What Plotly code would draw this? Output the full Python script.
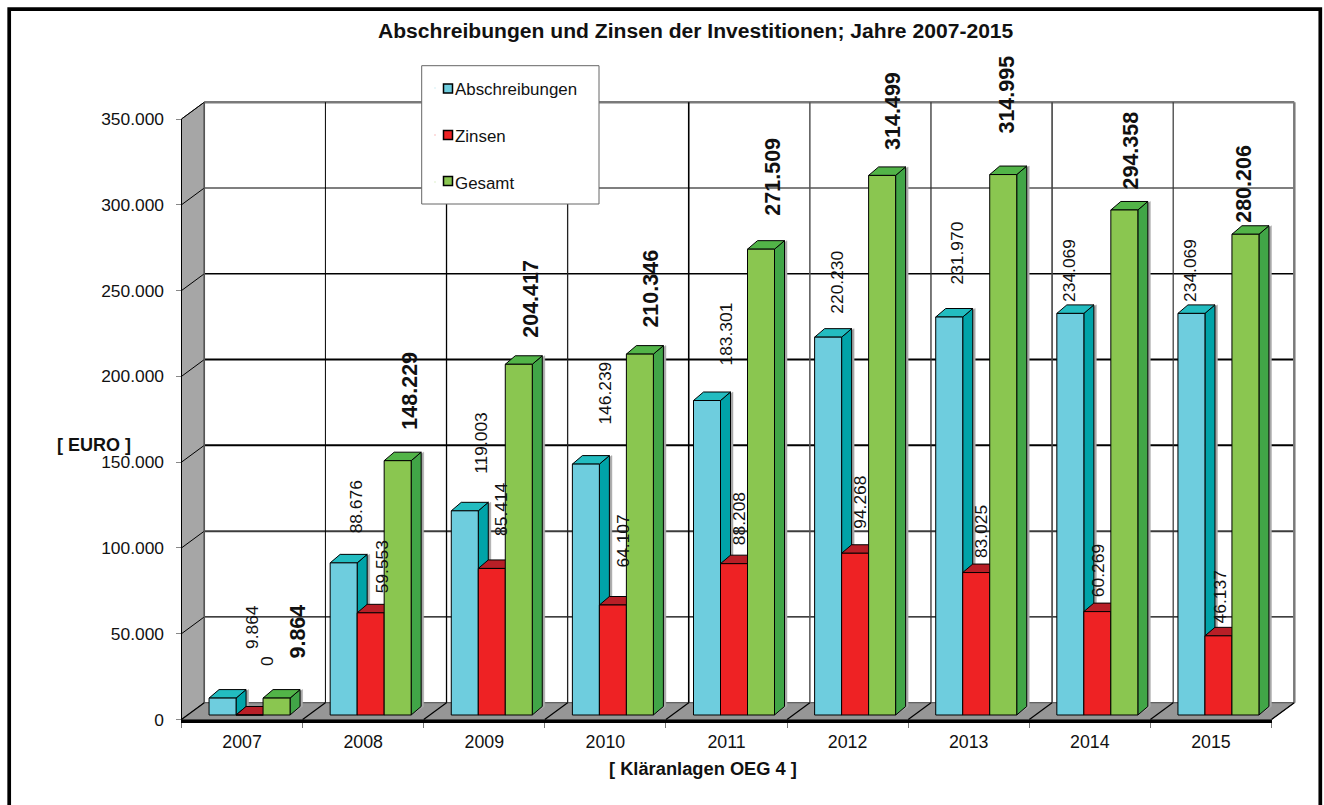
import plotly.graph_objects as go

# ---------- data ----------
years = ["2007", "2008", "2009", "2010", "2011", "2012", "2013", "2014", "2015"]
abschreibungen = [9864, 88676, 119003, 146239, 183301, 220230, 231970, 234069, 234069]
zinsen = [0, 59553, 85414, 64107, 88208, 94268, 83025, 60269, 46137]
gesamt = [9864, 148229, 204417, 210346, 271509, 314499, 314995, 294358, 280206]
y_ticks = [0, 50000, 100000, 150000, 200000, 250000, 300000, 350000]

# ---------- frame of the picture (pixels) ----------
W, H = 1324, 805
L, R = 181.5, 1271.5      # front plane, left/right
Y0, Y350 = 719.5, 119.0   # front plane, value 0 / 350000
PPC = (R - L) / len(years)
PPE = (Y0 - Y350) / 350000
DEPTH_X, DEPTH_Y = 22.8 / PPC, 16.8 / PPE   # wall depth
BAR_W = 27 / PPC
BAR_SHIFT = 7.5 / PPC
BAR_BASE = 4.5 / PPE
BAR_DX, BAR_DY = 10 / PPC, 8.5 / PPE
SHADOW = 2.5 / PPC

FONT = "Liberation Sans, Arial, sans-serif"
INK = "#111111"

# label offsets from the bar top (px): sideways, upward
blue_dx = [29.4, 12.3, 16.2, 19.1, 19, 8.9, 6.8, -1.3, -1.4]
blue_up = [48, 29, 36, 39, 33.5, 22, 31, 10, 10]
red_dx = [17.4, 11.3, 9.2, 10.1, 5, 4.9, 4.8, .7, 1.6]
red_up = [48, 19, 31.5, 37, 17, 23, 13, 13, 11]
green_dx = [21.4, 12.3, 12.2, 11.1, 12, 10.9, 3.8, 6.7, -1.4]
green_up = [38.5, 30, 25.5, 25.5, 32.5, 24.5, 40, 19.5, 10.5]

series = [
    dict(name="Abschreibungen", v=abschreibungen, front="#6ECDDE", side="#00A3A8", top="#23BCC0", pos=-1, dx=blue_dx, up=blue_up, size=17.4, bold=False),
    dict(name="Zinsen", v=zinsen, front="#EE2224", side="#B81F27", top="#B81F27", pos=0, dx=red_dx, up=red_up, size=17.4, bold=False),
    dict(name="Gesamt", v=gesamt, front="#8AC650", side="#41A547", top="#52B448", pos=1, dx=green_dx, up=green_up, size=21.5, bold=True),
]

def de(n):
    return f"{n:,}".replace(",", ".")

fig = go.Figure()
n = len(years)
x_lo, x_hi = -0.5, n - 0.5

def poly(xs, ys, fill, line="black", width=1):
    fig.add_trace(go.Scatter(x=xs, y=ys, mode="lines", fill="toself", fillcolor=fill,
                             line=dict(color=line, width=width), hoverinfo="skip", showlegend=False))

def seg(xs, ys, color="black", width=1):
    fig.add_trace(go.Scatter(x=xs, y=ys, mode="lines", line=dict(color=color, width=width),
                             hoverinfo="skip", showlegend=False))

# left wall and floor
poly([x_lo, x_lo + DEPTH_X, x_lo + DEPTH_X, x_lo], [0, DEPTH_Y, 350000 + DEPTH_Y, 350000], "#A6A6A6", "#333333", 1)
poly([x_lo, x_hi, x_hi + DEPTH_X, x_lo + DEPTH_X], [0, 0, DEPTH_Y, DEPTH_Y], "#969696", "#444444", 1)

# back wall grid
h_style = [("#444444", 1), ("black", 1.2), ("#3c3c3c", 2), ("black", 2), ("black", 2), ("black", 1.3), ("black", 1.2), ("#7a7a7a", 2.5)]
for t, (c, w) in zip(y_ticks, h_style):
    if t > 0:
        seg([x_lo + DEPTH_X, x_hi + DEPTH_X], [t + DEPTH_Y, t + DEPTH_Y], c, w)
        seg([x_lo, x_lo + DEPTH_X], [t, t + DEPTH_Y], "black", 1)
v_style = [("#555555", 1.5), ("black", 1), ("black", 1.3), ("#222222", 1.3), ("black", 1.6), ("#555555", 1.5), ("#333333", 1.3), ("#444444", 1.6), ("#333333", 1.2), ("#7a7a7a", 2.5)]
for k, (c, w) in enumerate(v_style):
    xb = x_lo + k + DEPTH_X
    seg([xb, xb], [DEPTH_Y, 350000 + DEPTH_Y], c, w)
    seg([x_lo + k, xb], [0, DEPTH_Y], "black", 1.2)

# 3-D columns
for s in series:
    fx, fy, sx, sy, tx, ty, gx, gy = [], [], [], [], [], [], [], []
    for i, v in enumerate(s["v"]):
        x0 = i + BAR_SHIFT + (s["pos"] - 0.5) * BAR_W
        x1 = x0 + BAR_W
        b, t = BAR_BASE, BAR_BASE + v
        gx += [x1, x1 + BAR_DX + SHADOW, x1 + BAR_DX + SHADOW, x1, x1, None]
        gy += [b, b + BAR_DY, t + BAR_DY, t, b, None]
        sx += [x1, x1 + BAR_DX, x1 + BAR_DX, x1, x1, None]
        sy += [b, b + BAR_DY, t + BAR_DY, t, b, None]
        tx += [x0, x1, x1 + BAR_DX, x0 + BAR_DX, x0, None]
        ty += [t, t, t + BAR_DY, t + BAR_DY, t, None]
        fx += [x0, x1, x1, x0, x0, None]
        fy += [b, b, t, t, b, None]
    poly(gx, gy, "#A8A8A8", "#A8A8A8", 0.5)
    poly(sx, sy, s["side"])
    poly(tx, ty, s["top"])
    poly(fx, fy, s["front"])

# invisible carriers: the tick axes, and the legend entries
fig.add_trace(go.Scatter(x=years, y=[0] * n, xaxis="x2", yaxis="y2", mode="markers",
                         marker=dict(opacity=0), hoverinfo="skip", showlegend=False))
for s in series:
    fig.add_trace(go.Scatter(x=[None], y=[None], mode="markers", name=s["name"], legendgroup=s["name"],
                             marker=dict(opacity=0, size=1, color=s["front"]), hoverinfo="skip"))

# data labels
ann = []
for s in series:
    for i, v in enumerate(s["v"]):
        ann.append(dict(x=i + BAR_SHIFT + s["pos"] * BAR_W, y=BAR_BASE + v, xref="x", yref="y",
                        text=f"<b>{de(v)}</b>" if s["bold"] else de(v), textangle=-90, showarrow=False,
                        xanchor="center", yanchor="bottom", xshift=s["dx"][i], yshift=s["up"][i],
                        borderpad=0, font=dict(family=FONT, size=s["size"], color=INK)))
ann += [
    dict(text="<b>Abschreibungen und Zinsen der Investitionen; Jahre 2007-2015</b>", x=696 / W, y=1 - 31 / H,
         xref="paper", yref="paper", showarrow=False, xanchor="center", yanchor="middle",
         font=dict(family=FONT, size=21.1, color=INK)),
    dict(text="<b>[ EURO ]</b>", x=94 / W, y=1 - 445 / H, xref="paper", yref="paper", showarrow=False,
         xanchor="center", yanchor="middle", font=dict(family=FONT, size=18, color=INK)),
    dict(text="<b>[ Kläranlagen OEG 4 ]</b>", x=702.5 / W, y=1 - 768 / H, xref="paper", yref="paper", showarrow=False,
         xanchor="center", yanchor="middle", font=dict(family=FONT, size=18.3, color=INK)),
]

# frame, legend box and legend swatches
shapes = [
    dict(type="rect", xref="paper", yref="paper", x0=9.2 / W, x1=1320.3 / W, y0=-0.02, y1=1 - 9.2 / H,
         line=dict(color="black", width=3.7), layer="above"),
    dict(type="rect", xref="paper", yref="paper", x0=421.7 / W, x1=599 / W, y0=1 - 204 / H, y1=1 - 65.7 / H,
         line=dict(color="#666666", width=1), fillcolor="white", layer="above"),
]
for s, yc in zip(series, [88.5, 135, 181]):
    shapes.append(dict(type="rect", xref="paper", yref="paper", x0=443.5 / W, x1=452.5 / W,
                       y0=1 - (yc + 4.5) / H, y1=1 - (yc - 4.5) / H,
                       line=dict(color="black", width=1.5), fillcolor=s["front"], layer="above"))

fig.update_layout(
    width=W, height=H, autosize=False, margin=dict(l=0, r=0, t=0, b=0, autoexpand=False),
    paper_bgcolor="white", plot_bgcolor="rgba(0,0,0,0)",
    font=dict(family=FONT, size=17.4, color=INK),
    annotations=ann, shapes=shapes,
    showlegend=True,
    legend=dict(x=415 / W, y=1 - 70.5 / H, xanchor="left", yanchor="top", bgcolor="rgba(0,0,0,0)",
                borderwidth=0, tracegroupgap=22, font=dict(family=FONT, size=16.9, color=INK), itemclick=False),
    xaxis=dict(visible=False, domain=[0, 1], range=[-0.5 - L / PPC, -0.5 + (W - L) / PPC], anchor="y"),
    yaxis=dict(visible=False, domain=[0, 1], range=[-(H - Y0) / PPE, Y0 / PPE], anchor="x"),
    xaxis2=dict(type="category", categoryorder="array", categoryarray=years, domain=[L / W, R / W],
                range=[x_lo, x_hi], anchor="y2", tickson="boundaries", ticks="outside", ticklen=5,
                tickcolor="#777777", showline=True, linecolor="black", linewidth=3, showgrid=False,
                ticklabelstandoff=4, tickfont=dict(family=FONT, size=17.8, color=INK), zeroline=False),
    yaxis2=dict(domain=[1 - Y0 / H, 1 - Y350 / H], range=[0, 350000], anchor="x2", tickmode="array",
                tickvals=y_ticks, ticktext=[de(t) for t in y_ticks], ticks="outside", ticklen=5,
                tickcolor="#888888", showline=True, linecolor="black", linewidth=1, showgrid=False,
                zeroline=False, ticklabelstandoff=8, tickfont=dict(family=FONT, size=17.4, color=INK)),
)

fig.write_html("out.html", post_script="document.body.style.margin='0';", config={"displayModeBar": False})
